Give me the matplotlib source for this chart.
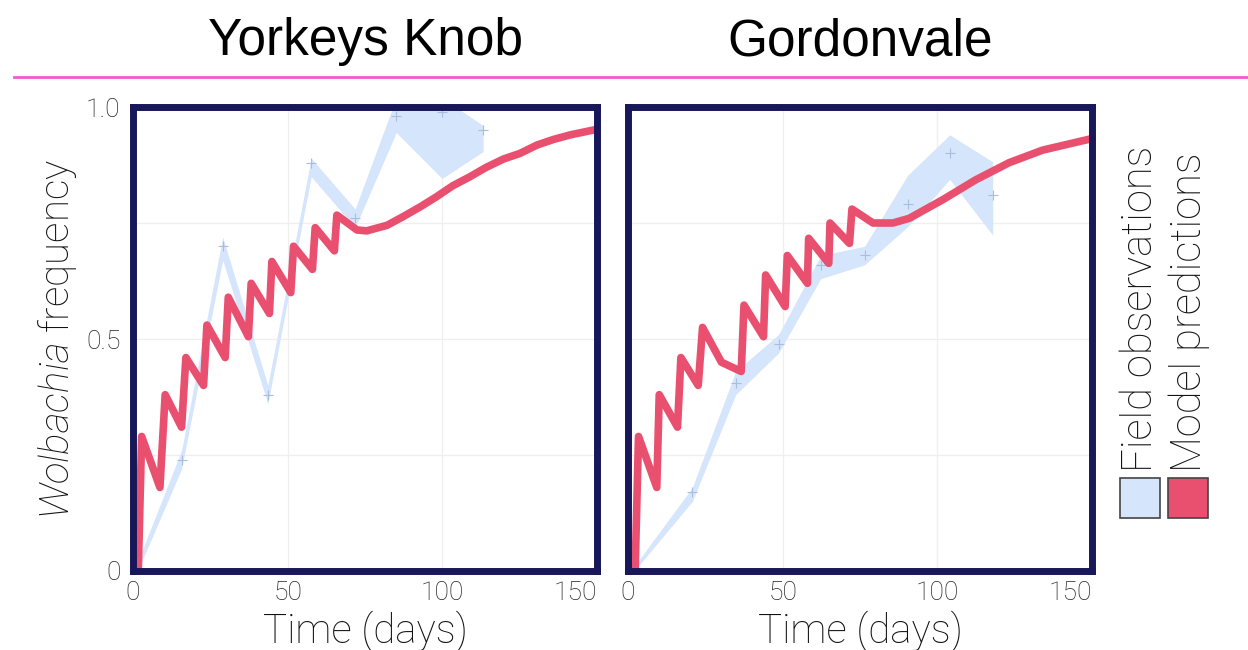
import matplotlib
matplotlib.use("Agg")
import matplotlib.pyplot as plt
from matplotlib.patches import Rectangle
from matplotlib.lines import Line2D

# ---- data -------------------------------------------------------------
site_names = ["Yorkeys Knob", "Gordonvale"]

# Field observations: sampling day, mean frequency, lower / upper bound
yk_obs_day = [1.5, 15.7, 29.0, 43.6, 57.6, 71.8, 85.1, 99.9, 113.2]
yk_obs_mean = [0.0, 0.24, 0.70, 0.38, 0.88, 0.76, 0.98, 0.99, 0.95]
yk_obs_lo = [0.0, 0.22, 0.67, 0.36, 0.85, 0.74, 0.945, 0.846, 0.904]
yk_obs_hi = [0.02, 0.26, 0.72, 0.40, 0.89, 0.78, 1.02, 1.02, 0.96]

gv_obs_day = [2.0, 20.8, 34.8, 48.7, 62.3, 76.5, 90.4, 104.0, 117.9]
gv_obs_mean = [0.0, 0.17, 0.405, 0.49, 0.66, 0.68, 0.79, 0.90, 0.81]
gv_obs_lo = [0.0, 0.15, 0.38, 0.47, 0.63, 0.66, 0.742, 0.844, 0.724]
gv_obs_hi = [0.01, 0.18, 0.43, 0.51, 0.68, 0.70, 0.853, 0.94, 0.882]

# Model predictions
yk_model_day = [1.7, 2.8, 8.7, 10.4, 15.7, 17.1, 22.8, 23.9, 29.8, 30.8,
                37.3, 38.2, 44.1, 44.9, 51.0, 51.9, 58.0, 58.9, 65.1, 65.9,
                72.4, 75.5, 82.1, 87.4, 92.9, 98.2, 103.3, 109.0, 114.2,
                119.8, 125.1, 130.6, 135.9, 141.4, 150]
yk_model_freq = [0.0, 0.29, 0.18, 0.38, 0.31, 0.46, 0.40, 0.53, 0.46, 0.59,
                 0.505, 0.62, 0.555, 0.667, 0.60, 0.70, 0.65, 0.74, 0.69,
                 0.767, 0.735, 0.733, 0.745, 0.764, 0.785, 0.807, 0.83,
                 0.85, 0.87, 0.888, 0.90, 0.918, 0.93, 0.94, 0.952]

gv_model_day = [2.3, 3.4, 9.3, 10.1, 16.0, 17.1, 22.7, 24.1, 30.2, 36.6,
                37.5, 43.8, 44.5, 50.8, 51.5, 58.0, 58.4, 64.9, 65.3, 71.6,
                72.4, 79.2, 85.6, 90.9, 101.7, 112.4, 123.2, 134.0, 150]
gv_model_freq = [0.0, 0.29, 0.18, 0.38, 0.31, 0.46, 0.40, 0.525, 0.45, 0.43,
                 0.573, 0.505, 0.638, 0.57, 0.68, 0.62, 0.717, 0.663, 0.75,
                 0.706, 0.78, 0.75, 0.75, 0.76, 0.80, 0.843, 0.88, 0.907,
                 0.932]

x_ticks = [0, 50, 100, 150]
x_tick_labels = ["0", "50", "100", "150"]
y_ticks = [0, 0.5, 1.0]
y_tick_labels = ["0", "0.5", "1.0"]
x_grid = [50, 100]
y_grid = [0.25, 0.5, 0.75]
legend_labels = ["Field observations", "Model predictions"]

# ---- style ------------------------------------------------------------
BAND = "#d5e5fb"
MARK = "#a9bddc"
RED = "#e9506f"
NAVY = "#17175a"
PINK = "#f05ccc"
LIGHT = "Roboto"
LW = "light"

plt.rcParams["mathtext.fontset"] = "custom"
plt.rcParams["mathtext.it"] = "Roboto:italic:light"
plt.rcParams["mathtext.rm"] = "Roboto:light"

W, H = 1248, 650
fig = plt.figure(figsize=(W / 100, H / 100), dpi=100)
fig.patch.set_facecolor("white")


def px_box(x0, y_top, w, h):
    return [x0 / W, 1 - (y_top + h) / H, w / W, h / H]


panels = [
    (px_box(133, 107, 464, 464), yk_obs_day, yk_obs_mean, yk_obs_lo, yk_obs_hi,
     yk_model_day, yk_model_freq),
    (px_box(628, 107, 464, 464), gv_obs_day, gv_obs_mean, gv_obs_lo, gv_obs_hi,
     gv_model_day, gv_model_freq),
]

for i, (box, od, om, olo, ohi, md, mf) in enumerate(panels):
    ax = fig.add_axes(box)
    for gx in x_grid:
        ax.axvline(gx, color="#efefef", lw=0.9, zorder=0)
    for gy in y_grid:
        ax.axhline(gy, color="#efefef", lw=0.9, zorder=0)
    ax.fill_between(od, olo, ohi, color=BAND, lw=0, zorder=1)
    ax.plot(od, om, ls="none", marker="+", ms=7, mew=0.8, color=MARK, zorder=2)
    ax.plot(md, mf, color=RED, lw=5.5, solid_joinstyle="round",
            solid_capstyle="butt", zorder=3)

    ax.set_xlim(0, 150)
    ax.set_ylim(0, 1)
    ax.set_xticks(x_ticks)
    ax.set_xticklabels(x_tick_labels, fontfamily=LIGHT, fontweight=LW,
                       fontsize=19, color="#222222")
    ax.tick_params(length=0, which="both", pad=7)
    ax.get_xticklabels()[-1].set_horizontalalignment("right")
    if i == 0:
        ax.set_yticks(y_ticks)
        ax.set_yticklabels(y_tick_labels, fontfamily=LIGHT, fontweight=LW,
                           fontsize=19, color="#222222")
        ax.tick_params(axis="y", pad=9)
        ax.set_ylabel(r"$\mathit{Wolbachia}$ frequency", fontfamily=LIGHT,
                      fontweight=LW, fontsize=29, color="#111111",
                      labelpad=5)
    else:
        ax.set_yticks([])
    ax.set_xlabel("Time (days)", fontfamily=LIGHT, fontweight=LW,
                  fontsize=29, color="#111111", labelpad=4)
    for sp in ax.spines.values():
        sp.set_color(NAVY)
        sp.set_linewidth(5.0)
        sp.set_zorder(5)

    cx = box[0] + box[2] / 2
    fig.text(cx, 1 - 55 / H, site_names[i], ha="center", va="baseline",
             fontfamily="Liberation Sans", fontsize=37, color="black")

# divider under the titles
fig.add_artist(Line2D([14 / W, 1], [1 - 77 / H, 1 - 77 / H],
                      transform=fig.transFigure, color=PINK, lw=2.0))

# legend: coloured squares with rotated captions
for j, (col, lab) in enumerate(zip([BAND, RED], legend_labels)):
    x0 = 1120 + 48 * j
    fig.add_artist(Rectangle((x0 / W, 1 - 518 / H), 40 / W, 40 / H,
                             transform=fig.transFigure, facecolor=col,
                             edgecolor="#444444", lw=1.2))
    fig.text((x0 + 21) / W, 1 - 472 / H, lab, rotation=90, ha="center",
             va="bottom", fontfamily=LIGHT, fontweight=LW, fontsize=30,
             color="#111111")

fig.savefig("out.png", dpi=100, facecolor="white")
